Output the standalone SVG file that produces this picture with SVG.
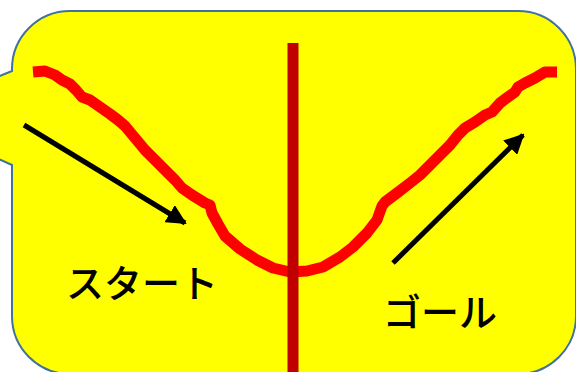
<svg xmlns="http://www.w3.org/2000/svg" width="576" height="372" viewBox="0 0 576 372">
<defs>
<style>
.lbl{font-family:"Noto Sans CJK JP","Liberation Sans",sans-serif;font-size:38px;font-weight:500;fill:#000}
.arrow{stroke:#000;stroke-width:5;fill:none}
</style>
<marker id="ah" viewBox="0 0 10 10" refX="9" refY="5" markerWidth="4" markerHeight="4" orient="auto" markerUnits="strokeWidth">
<path d="M0,0 L10,5 L0,10 z" fill="#000"/>
</marker>
</defs>
<rect width="576" height="372" fill="#fff"/>
<g id="bubble">
<path d="M70,11 H518 A58,58 0 0 1 576,69 V316 A58,58 0 0 1 518,374 H70 A58,58 0 0 1 12,316 V165 L-10,155 L-10,80 L12,71 V69 A58,58 0 0 1 70,11 Z" fill="#ffff00" stroke="#41719c" stroke-width="2"/>
</g>
<g id="curve">
<polyline points="33,72 45,71 55,75 62,80 70,84 76,90 82,97 90,100 100,107 110,114 118,120 125,126 135,138 145,150 155,160 165,170 175,180 182,188 192,195 205,203 210,205 212,213 218,224 225,236 240,249 257,260 273,268 290,272 307,271 323,267 340,257 353,247 367,233 377,220 382,206 385,202 397,193 410,183 420,175 430,165 440,155 450,145 458,135 465,128 475,122 485,115 492,112 500,103 508,97 515,92 518,87 525,83 535,78 545,72 557,72" fill="none" stroke="#ff0000" stroke-width="11" stroke-linejoin="round"/>
</g>
<g id="axis">
<line x1="293" y1="43" x2="293" y2="372" stroke="#c00000" stroke-width="11"/>
</g>
<g id="connectors">
<line class="arrow" x1="24" y1="125" x2="185" y2="223" marker-end="url(#ah)"/>
<line class="arrow" x1="393" y1="263" x2="523" y2="135" marker-end="url(#ah)"/>
</g>
<g id="start">
<text class="lbl" x="66" y="297">スタート</text>
</g>
<g id="goal">
<text class="lbl" x="383" y="326">ゴール</text>
</g>
</svg>
